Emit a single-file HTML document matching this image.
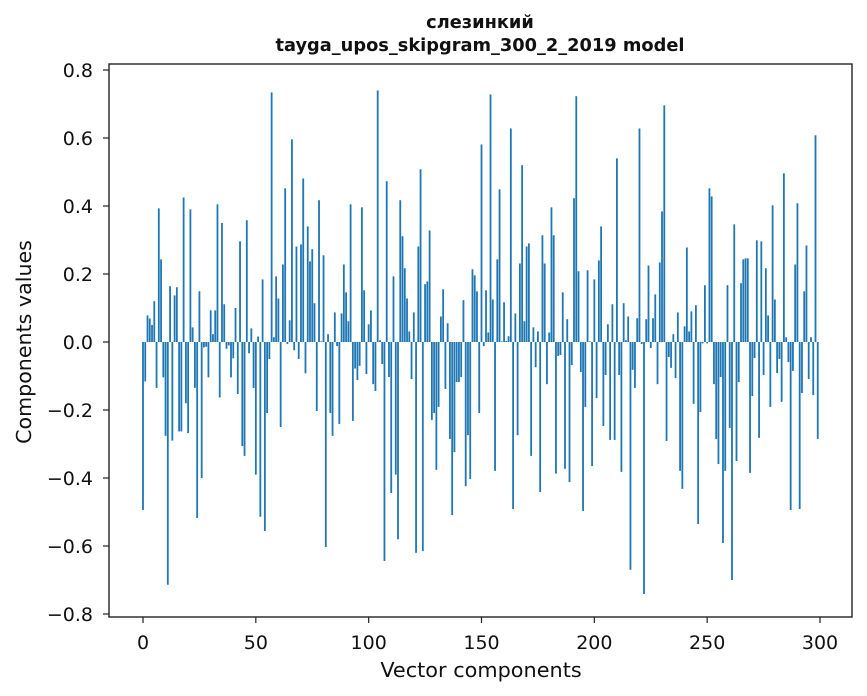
<!DOCTYPE html>
<html><head><meta charset="utf-8">
<style>
html,body{margin:0;padding:0;background:#fff;}
svg{display:block;font-family:"DejaVu Sans","Liberation Sans",sans-serif;}
</style></head>
<body>
<svg id="chart" width="867" height="696" viewBox="0 0 867 696" xmlns="http://www.w3.org/2000/svg">
<rect width="867" height="696" fill="#fff"/>
<text x="480" y="28" text-anchor="middle" font-size="17.8" font-weight="bold" fill="#111">слезинкий</text>
<text x="480" y="51" text-anchor="middle" font-size="17.8" font-weight="bold" fill="#111">tayga_upos_skipgram_300_2_2019 model</text>
<g id="bars"></g>
<g id="axes"></g>
<text x="481" y="677" text-anchor="middle" font-size="20.8" fill="#111">Vector components</text>
<text transform="translate(31,342) rotate(-90)" text-anchor="middle" font-size="20.6" fill="#111">Components values</text>
</svg>
<script>
var values = [
-0.494,-0.116,0.078,0.069,0.05,0.12,-0.135,0.393,0.243,-0.104,
-0.276,-0.714,0.164,-0.29,0.137,0.161,-0.263,-0.263,0.425,-0.18,
-0.268,0.39,0.043,-0.135,-0.518,0.149,-0.4,-0.016,-0.014,-0.104,
0.093,0.023,0.093,0.405,-0.163,0.35,0.111,-0.02,-0.01,-0.104,
-0.048,0.1,-0.153,0.296,-0.306,-0.335,0.358,-0.033,0.04,-0.135,
-0.39,0.016,-0.514,0.184,-0.556,-0.209,-0.05,0.734,0.014,0.193,
0.128,-0.25,0.228,0.452,-0.006,0.064,0.596,-0.024,0.281,-0.05,
0.287,0.481,-0.092,0.34,0.237,0.273,0.114,-0.203,0.417,0.002,
0.255,-0.603,0.023,-0.209,-0.276,0.087,-0.012,-0.241,0.084,0.228,
0.146,0.061,0.405,-0.232,-0.078,-0.112,-0.07,0.396,0.152,-0.094,
0.052,0.093,-0.124,-0.144,0.74,0.005,-0.065,-0.644,0.473,-0.103,
-0.444,0.193,-0.39,-0.58,0.417,0.311,0.217,0.128,0.031,-0.109,
0.087,-0.62,0.281,0.508,-0.615,0.17,0.178,0.328,-0.229,-0.209,
-0.376,-0.191,0.075,0.155,-0.138,0.055,-0.285,-0.509,-0.324,-0.118,
-0.118,-0.103,0.123,-0.424,-0.274,-0.403,0.214,0.196,0.149,-0.209,
0.581,-0.012,0.152,0.028,0.728,0.125,-0.379,0.243,0.449,0.002,
0.117,0.003,0.017,0.628,-0.491,0.084,-0.274,0.231,0.52,0.061,
0.281,0.29,-0.335,0.043,-0.074,0.031,-0.441,0.314,0.231,-0.124,
0.028,0.396,0.314,-0.387,-0.041,-0.038,0.146,-0.373,0.067,-0.412,
-0.068,0.423,0.723,0.208,-0.088,-0.497,-0.191,0.211,0.002,-0.365,
0.184,-0.165,0.24,0.34,-0.247,-0.097,0.052,-0.288,0.111,-0.288,
0.54,-0.097,-0.382,0.114,0.005,0.075,-0.67,-0.082,-0.135,0.07,
0.628,-0.006,-0.741,0.067,0.225,-0.018,0.07,0.14,-0.124,0.234,
0.384,0.696,-0.291,-0.044,-0.076,0.023,-0.106,0.087,-0.379,-0.432,
0.046,0.278,0.031,0.09,-0.182,0.108,-0.535,-0.206,-0.004,0.167,
-0.004,0.452,0.428,-0.124,-0.285,-0.359,-0.103,-0.591,-0.379,0.167,
-0.253,-0.7,0.346,-0.35,-0.118,0.173,0.243,0.246,0.246,-0.385,
-0.159,-0.047,0.299,-0.282,0.296,-0.097,0.217,0.078,-0.191,0.402,
0.125,-0.091,-0.05,-0.176,0.496,0.014,-0.059,-0.494,-0.085,0.228,
0.408,-0.491,-0.15,0.149,0.284,-0.109,0.014,-0.156,0.608,-0.285
];
var xTicks = [0,50,100,150,200,250,300];
var yTicks = [-0.8,-0.6,-0.4,-0.2,0.0,0.2,0.4,0.6,0.8];
var yTickLabels = ["\u22120.8","\u22120.6","\u22120.4","\u22120.2","0.0","0.2","0.4","0.6","0.8"];

var NS = "http://www.w3.org/2000/svg";
var L = 109, R = 852, T = 64, B = 617;
var pxPerX = (820 - 143) / 300;
function xs(v){ return 143 + v * pxPerX; }
function ys(v){ return 342 - v * 340; }

var gb = document.getElementById('bars');
for (var i = 0; i < values.length; i++) {
  var v = values[i];
  var r = document.createElementNS(NS, 'rect');
  var x0 = xs(i - 0.4), x1 = xs(i + 0.4);
  var yTop = ys(Math.max(v, 0)), yBot = ys(Math.min(v, 0));
  r.setAttribute('x', x0);
  r.setAttribute('y', yTop);
  r.setAttribute('width', x1 - x0);
  r.setAttribute('height', Math.max(yBot - yTop, 0.3));
  r.setAttribute('fill', '#1f77b4');
  
  
  gb.appendChild(r);
}

var ga = document.getElementById('axes');
var frame = document.createElementNS(NS, 'rect');
frame.setAttribute('x', L); frame.setAttribute('y', T);
frame.setAttribute('width', R - L); frame.setAttribute('height', B - T);
frame.setAttribute('fill', 'none'); frame.setAttribute('stroke', '#222'); frame.setAttribute('stroke-width', '1.4');


ga.appendChild(frame);

xTicks.forEach(function(t){
  var x = xs(t);
  var ln = document.createElementNS(NS, 'line');
  ln.setAttribute('x1', x); ln.setAttribute('x2', x);
  ln.setAttribute('y1', B); ln.setAttribute('y2', B + 6);
  ln.setAttribute('stroke', '#222'); ln.setAttribute('stroke-width', '1.2');
  
  
  ga.appendChild(ln);
  var tx = document.createElementNS(NS, 'text');
  tx.setAttribute('x', x); tx.setAttribute('y', 649);
  tx.setAttribute('text-anchor', 'middle'); tx.setAttribute('font-size', '19');
  tx.setAttribute('fill', '#111');
  tx.textContent = String(t);
  
  
  ga.appendChild(tx);
});
yTicks.forEach(function(t, k){
  var y = ys(t);
  var ln = document.createElementNS(NS, 'line');
  ln.setAttribute('x1', L - 6); ln.setAttribute('x2', L);
  ln.setAttribute('y1', y); ln.setAttribute('y2', y);
  ln.setAttribute('stroke', '#222'); ln.setAttribute('stroke-width', '1.2');
  
  
  ga.appendChild(ln);
  var tx = document.createElementNS(NS, 'text');
  tx.setAttribute('x', 93); tx.setAttribute('y', y + 7);
  tx.setAttribute('text-anchor', 'end'); tx.setAttribute('font-size', '19');
  tx.setAttribute('fill', '#111');
  tx.textContent = yTickLabels[k];
  
  
  ga.appendChild(tx);
});
</script>
</body></html>
